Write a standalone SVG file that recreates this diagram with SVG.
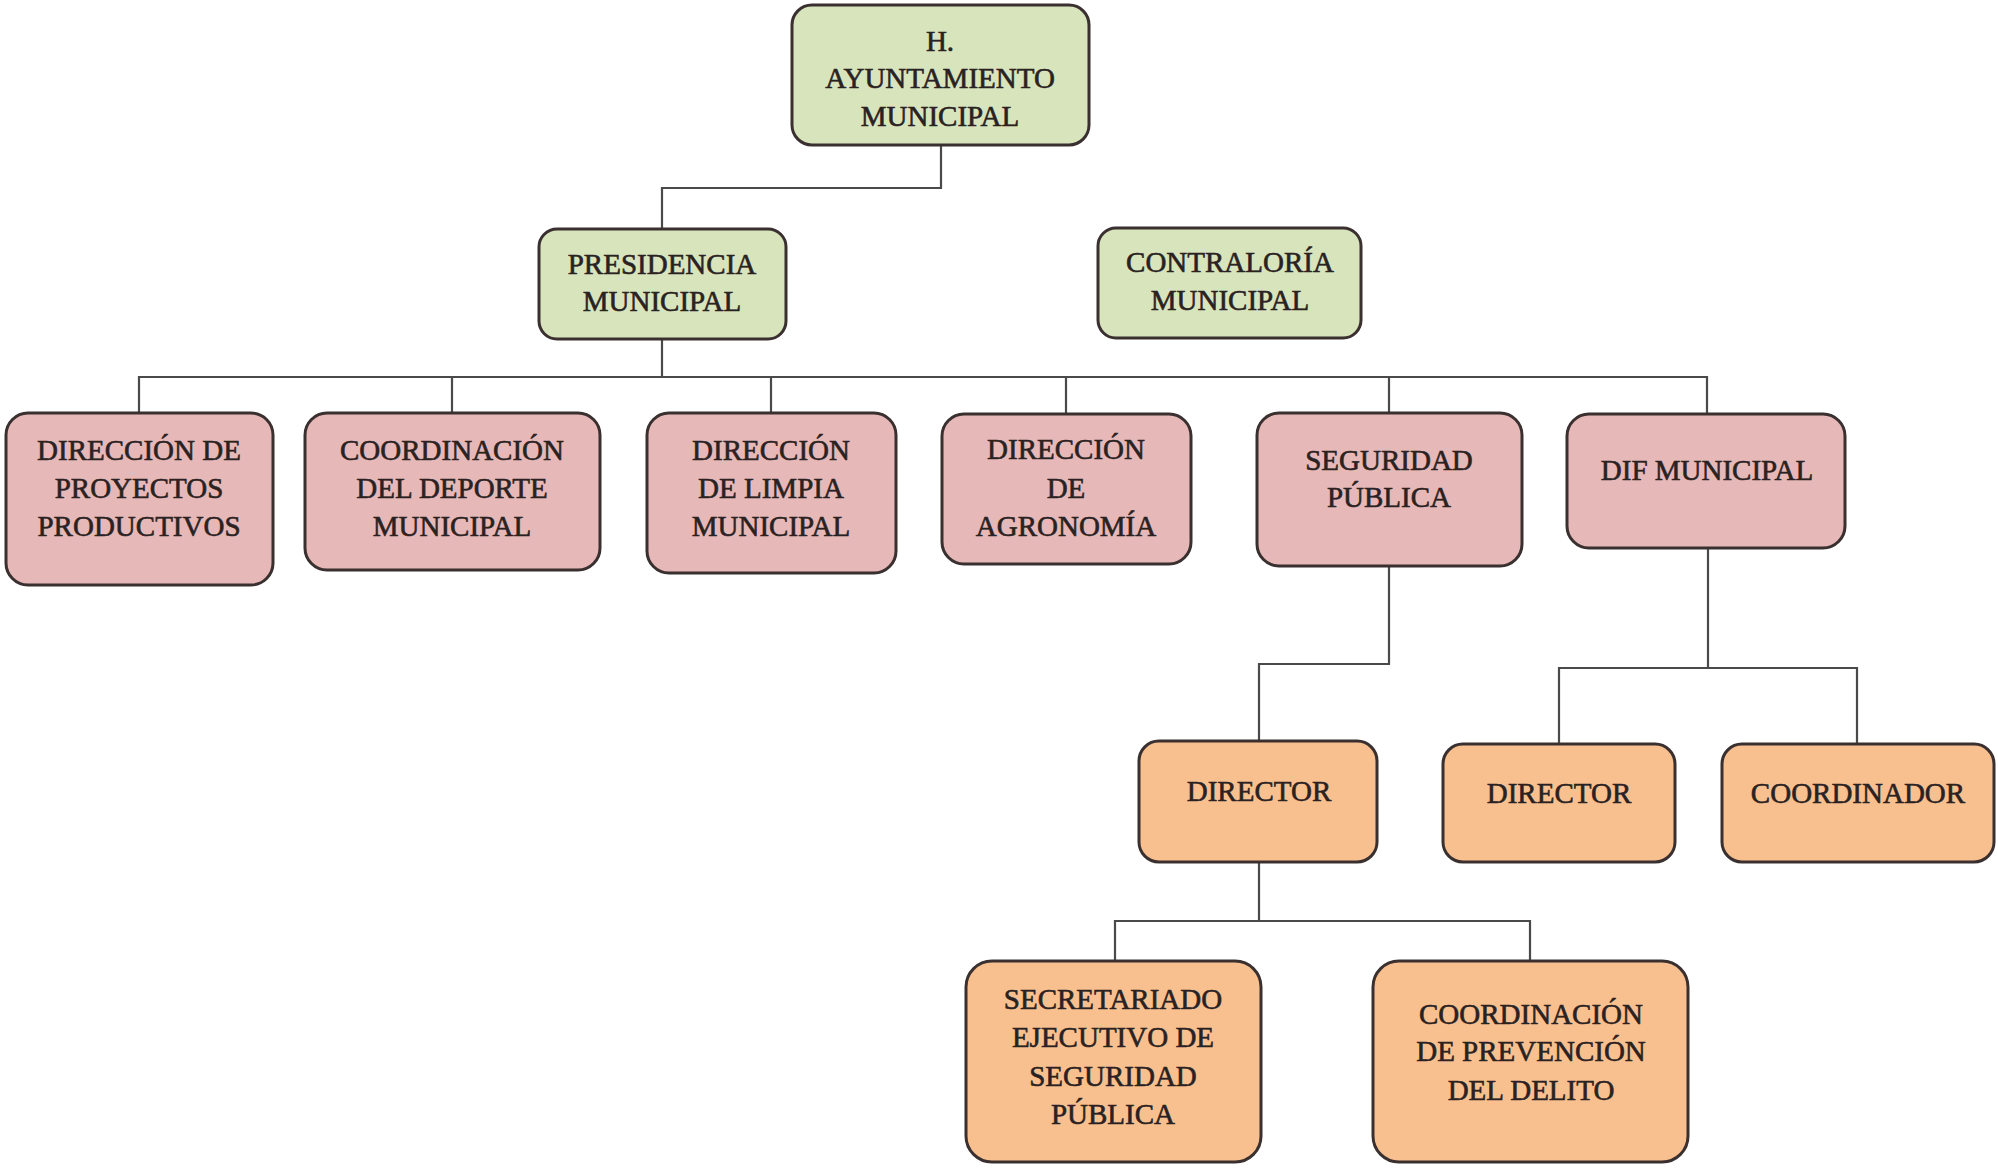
<svg xmlns="http://www.w3.org/2000/svg" width="1998" height="1168" viewBox="0 0 1998 1168">
<style>
.box{stroke:#3a3030;stroke-width:3}
.g{fill:#d8e4bc}
.p{fill:#e6b8b7}
.o{fill:#f9c08f}
text{font-family:"Liberation Serif","DejaVu Serif",serif;font-size:29px;fill:#2a2222;text-anchor:middle;stroke:#2a2222;stroke-width:0.6}
.c{fill:none;stroke:#4a4a4a;stroke-width:2.2}
</style>
<rect width="1998" height="1168" fill="#ffffff"/>
<g id="connectors">
<path class="c" d="M941 145 V188 H662 V229"/>
<path class="c" d="M662 339 V377"/>
<path class="c" d="M139 413 V377 H1707 V414"/>
<path class="c" d="M452 377 V413 M771 377 V413 M1066 377 V414 M1389 377 V413"/>
<path class="c" d="M1389 566 V664 H1259 V741"/>
<path class="c" d="M1708 548 V668 M1559 744 V668 H1857 V744"/>
<path class="c" d="M1259 862 V921 M1115 961 V921 H1530 V961"/>
</g>
<g id="n-ayuntamiento">
<rect class="box g" x="792" y="5" width="297" height="140" rx="20"/>
<text x="940" y="51">H.</text>
<text x="940" y="88">AYUNTAMIENTO</text>
<text x="940" y="126">MUNICIPAL</text>
</g>
<g id="n-presidencia">
<rect class="box g" x="539" y="229" width="247" height="110" rx="18"/>
<text x="662" y="274">PRESIDENCIA</text>
<text x="662" y="311">MUNICIPAL</text>
</g>
<g id="n-contraloria">
<rect class="box g" x="1098" y="228" width="263" height="110" rx="18"/>
<text x="1230" y="272">CONTRALORÍA</text>
<text x="1230" y="310">MUNICIPAL</text>
</g>
<g id="n-proyectos">
<rect class="box p" x="6" y="413" width="267" height="172" rx="22"/>
<text x="139" y="460">DIRECCIÓN DE</text>
<text x="139" y="498">PROYECTOS</text>
<text x="139" y="536">PRODUCTIVOS</text>
</g>
<g id="n-deporte">
<rect class="box p" x="305" y="413" width="295" height="157" rx="22"/>
<text x="452" y="460">COORDINACIÓN</text>
<text x="452" y="498">DEL DEPORTE</text>
<text x="452" y="536">MUNICIPAL</text>
</g>
<g id="n-limpia">
<rect class="box p" x="647" y="413" width="249" height="160" rx="22"/>
<text x="771" y="460">DIRECCIÓN</text>
<text x="771" y="498">DE LIMPIA</text>
<text x="771" y="536">MUNICIPAL</text>
</g>
<g id="n-agronomia">
<rect class="box p" x="942" y="414" width="249" height="150" rx="22"/>
<text x="1066" y="459">DIRECCIÓN</text>
<text x="1066" y="498">DE</text>
<text x="1066" y="536">AGRONOMÍA</text>
</g>
<g id="n-seguridad">
<rect class="box p" x="1257" y="413" width="265" height="153" rx="22"/>
<text x="1389" y="470">SEGURIDAD</text>
<text x="1389" y="507">PÚBLICA</text>
</g>
<g id="n-dif">
<rect class="box p" x="1567" y="414" width="278" height="134" rx="22"/>
<text x="1707" y="480">DIF MUNICIPAL</text>
</g>
<g id="n-director-seg">
<rect class="box o" x="1139" y="741" width="238" height="121" rx="20"/>
<text x="1259" y="801">DIRECTOR</text>
</g>
<g id="n-director-dif">
<rect class="box o" x="1443" y="744" width="232" height="118" rx="20"/>
<text x="1559" y="803">DIRECTOR</text>
</g>
<g id="n-coordinador">
<rect class="box o" x="1722" y="744" width="272" height="118" rx="20"/>
<text x="1858" y="803">COORDINADOR</text>
</g>
<g id="n-secretariado">
<rect class="box o" x="966" y="961" width="295" height="201" rx="26"/>
<text x="1113" y="1009">SECRETARIADO</text>
<text x="1113" y="1047">EJECUTIVO DE</text>
<text x="1113" y="1086">SEGURIDAD</text>
<text x="1113" y="1124">PÚBLICA</text>
</g>
<g id="n-prevencion">
<rect class="box o" x="1373" y="961" width="315" height="201" rx="26"/>
<text x="1531" y="1024">COORDINACIÓN</text>
<text x="1531" y="1061">DE PREVENCIÓN</text>
<text x="1531" y="1100">DEL DELITO</text>
</g>
</svg>
